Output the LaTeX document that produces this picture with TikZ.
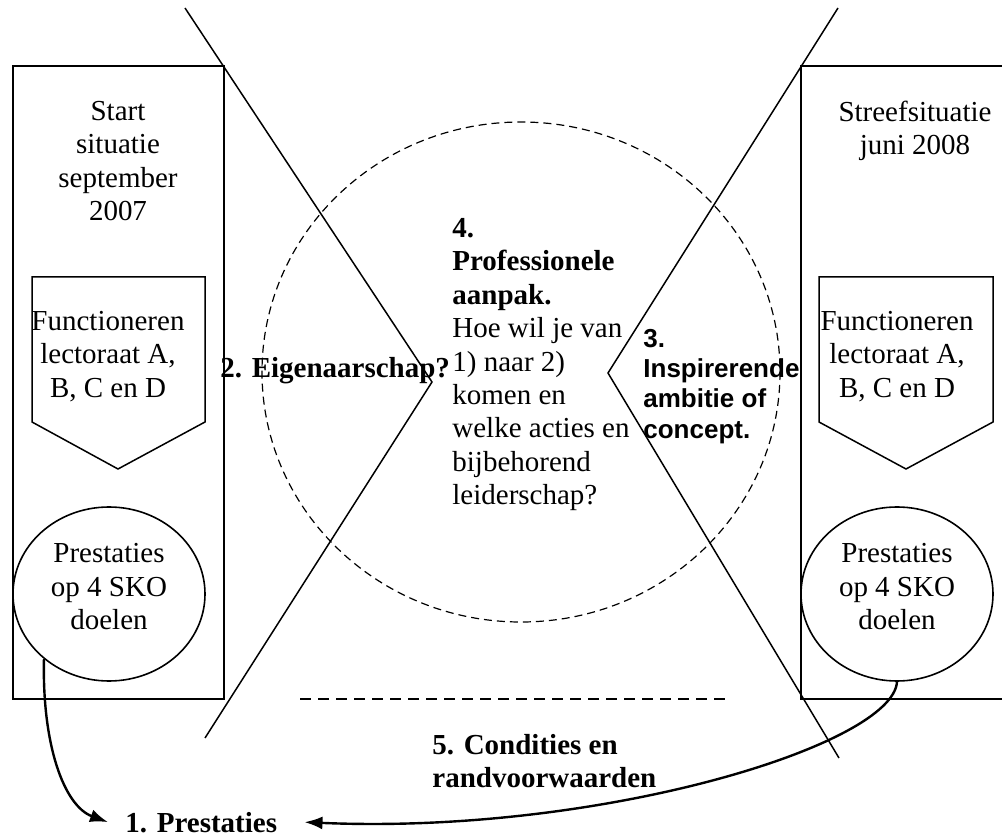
\documentclass[tikz,border=0pt]{standalone}
\usepackage{fontspec}
\setmainfont{Liberation Serif}
\newfontfamily\arialfont{Liberation Sans}
\usetikzlibrary{arrows.meta,shapes.geometric}

\begin{document}
\begin{tikzpicture}[
    x = 0.5pt, y = -0.5pt, %
    > = {Latex[length=9pt,width=6.5pt]}, %
    font = \fontsize{14.5}{16.7}\selectfont
    ]

    \tikzset{
    frame/.style = {draw = black, line width = 1pt},
    cut/.style = {draw = black, line width = 0.75pt},
    goal/.style = {ellipse, draw = black, line width = 0.8pt,
        minimum width = 96pt, minimum height = 87pt, inner sep = 0pt},
    txt/.style = {align = center, inner sep = 0pt, anchor = north},
    bold/.style = {font = \fontsize{14.5}{16.7}\selectfont\bfseries, inner sep = 0pt},
    flow/.style = {->, line width = 1.2pt}
    }

    \useasboundingbox (0,0) rectangle (1002,839);
    \clip (0,0) rectangle (1002,839);

    % the two situations
    \draw[frame] (13,66) rectangle (224,699);
    \draw[frame] (801,66) rectangle (1040,699);
    \draw[cut] (32,277) -- (205,277) -- (205,422) -- (118,469) -- (32,422) -- cycle;
    \draw[cut] (819,277) -- (993,277) -- (993,422) -- (906,469) -- (819,422) -- cycle;

    \node[txt] (l1) at (118,101) {Start\\situatie\\september\\2007};
    \node[txt] (l2) at (108,311) {Functioneren\\lectoraat A,\\B, C en D};
    \node[goal] (l3) at (109,594) {};
    \node[txt] (l3t) at (109,543) {Prestaties\\op 4 SKO\\doelen};

    \node[txt] (r1) at (915,100.5) {Streefsituatie\\juni 2008};
    \node[txt] (r2) at (897,311) {Functioneren\\lectoraat A,\\B, C en D};
    \node[goal] (r3) at (897,594) {};
    \node[txt] (r3t) at (897,543) {Prestaties\\op 4 SKO\\doelen};

    % the middle
    \draw[dashed, dash pattern = on 4pt off 2.5pt, line width = 0.6pt] (521,372) ellipse (259 and 250);
    \draw[dashed, dash pattern = on 5.5pt off 3.5pt, line width = 0.6pt] (300,699) -- (725,699);
    \draw[cut] (185,8) -- (432,382) -- (205,738);
    \draw[cut] (838,8) -- (608,373) -- (839,758);

    \node[align = left, inner sep = 0pt, anchor = north west] (c4) at (452,218)
        {\textbf{4.}\\\textbf{Professionele}\\\textbf{aanpak.}\\Hoe wil je van\\1) naar 2)\\komen en\\welke acties en\\bijbehorend\\leiderschap?};
    \node[bold, anchor = base west] (c2) at (220,378) {2. Eigenaarschap?};
    \node[align = left, inner sep = 0pt, anchor = north west,
        font = \arialfont\fontsize{13}{15.2}\selectfont\bfseries] (c3) at (643,328.5)
        {3.\\Inspirerende\\ambitie of\\concept.};
    \node[bold, align = left, anchor = north west] (c5) at (432,734) {5. Condities en\\randvoorwaarden};
    \node[bold, anchor = base west] (p1) at (125,832) {1. Prestaties};

    \draw[flow] (l3.225) .. controls (42,745) and (64,806) .. ([xshift=-8.5pt]p1.west);
    \draw[flow] (r3.south) .. controls (893,745) and (600,835) .. ([xshift=13.5pt]p1.east);

\end{tikzpicture}
\end{document}
